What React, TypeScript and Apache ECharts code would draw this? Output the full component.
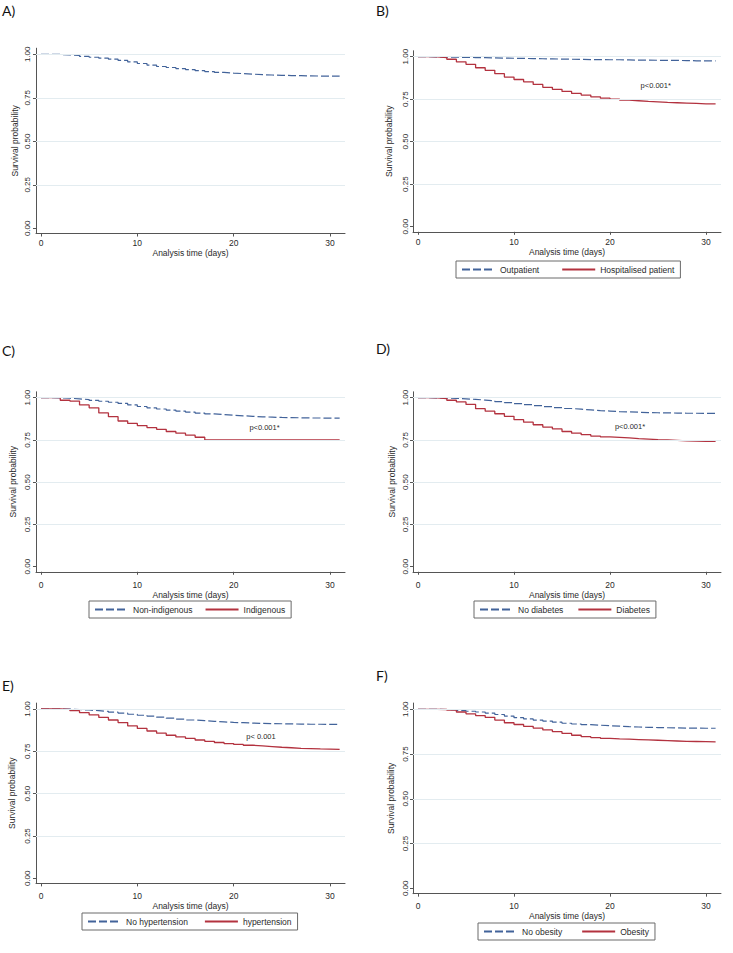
import React, { useEffect, useRef } from "react";
import * as echarts from "echarts";

// ---------- data ----------
const DAYS = [0, 1, 2, 3, 4, 5, 6, 7, 8, 9, 10, 11, 12, 13, 14, 15, 16, 17, 18, 19, 20, 21, 22, 23, 24, 25, 26, 27, 28, 29, 30, 31];
const X_TICKS = [0, 10, 20, 30];
const Y_TICKS = [0, 0.25, 0.5, 0.75, 1];
const Y_GRIDLINES = [0.25, 0.5, 0.75, 1];

const A_ALL = [1.0, 0.999, 0.997, 0.993, 0.988, 0.983, 0.978, 0.972, 0.965, 0.956, 0.947, 0.938, 0.93, 0.924, 0.918, 0.912, 0.906, 0.901, 0.896, 0.892, 0.889, 0.886, 0.883, 0.881, 0.879, 0.878, 0.877, 0.876, 0.875, 0.875, 0.874, 0.873];
const B_OUT = [1, 0.999, 0.998, 0.997, 0.996, 0.995, 0.994, 0.993, 0.992, 0.991, 0.99, 0.989, 0.988, 0.987, 0.986, 0.985, 0.984, 0.983, 0.983, 0.982, 0.982, 0.981, 0.98, 0.98, 0.979, 0.978, 0.978, 0.977, 0.976, 0.976, 0.975, 0.974];
const B_HOSP = [1, 0.999, 0.995, 0.985, 0.97, 0.955, 0.935, 0.92, 0.9, 0.88, 0.866, 0.852, 0.837, 0.82, 0.808, 0.796, 0.784, 0.774, 0.764, 0.756, 0.75, 0.745, 0.741, 0.737, 0.734, 0.731, 0.729, 0.727, 0.725, 0.723, 0.722, 0.72];
const C_NON = [1, 0.999, 0.997, 0.993, 0.989, 0.984, 0.979, 0.973, 0.966, 0.957, 0.948, 0.94, 0.933, 0.927, 0.921, 0.915, 0.909, 0.904, 0.9, 0.896, 0.893, 0.89, 0.887, 0.885, 0.883, 0.882, 0.881, 0.88, 0.88, 0.879, 0.879, 0.878];
const C_IND = [1, 1, 0.985, 0.98, 0.957, 0.94, 0.91, 0.888, 0.862, 0.848, 0.835, 0.823, 0.813, 0.8, 0.79, 0.778, 0.766, 0.75, 0.75, 0.75, 0.75, 0.75, 0.75, 0.75, 0.75, 0.75, 0.75, 0.75, 0.75, 0.75, 0.75, 0.75];
const D_NO = [1, 0.999, 0.998, 0.996, 0.993, 0.99, 0.986, 0.982, 0.977, 0.971, 0.965, 0.959, 0.953, 0.947, 0.941, 0.936, 0.932, 0.928, 0.924, 0.921, 0.918, 0.916, 0.914, 0.912, 0.911, 0.91, 0.909, 0.908, 0.908, 0.907, 0.907, 0.906];
const D_DIA = [1, 0.999, 0.995, 0.985, 0.975, 0.96, 0.935, 0.92, 0.905, 0.89, 0.87, 0.855, 0.84, 0.826, 0.815, 0.8, 0.79, 0.781, 0.773, 0.768, 0.765, 0.762, 0.758, 0.755, 0.752, 0.75, 0.748, 0.744, 0.743, 0.742, 0.741, 0.739];
const E_NO = [1, 1, 0.999, 0.997, 0.994, 0.99, 0.986, 0.981, 0.976, 0.969, 0.963, 0.958, 0.952, 0.946, 0.94, 0.935, 0.931, 0.927, 0.924, 0.921, 0.919, 0.917, 0.915, 0.914, 0.913, 0.912, 0.911, 0.91, 0.91, 0.909, 0.909, 0.908];
const E_HYP = [1, 1, 0.998, 0.99, 0.978, 0.965, 0.95, 0.935, 0.92, 0.9, 0.885, 0.87, 0.857, 0.845, 0.835, 0.826, 0.817, 0.809, 0.802, 0.796, 0.791, 0.786, 0.782, 0.778, 0.774, 0.771, 0.768, 0.766, 0.764, 0.763, 0.762, 0.76];
const F_NO = [1, 1, 0.999, 0.997, 0.993, 0.989, 0.985, 0.979, 0.971, 0.962, 0.953, 0.946, 0.94, 0.934, 0.928, 0.922, 0.918, 0.914, 0.911, 0.908, 0.906, 0.903, 0.901, 0.899, 0.898, 0.897, 0.896, 0.895, 0.895, 0.894, 0.894, 0.893];
const F_OB = [1, 1, 0.999, 0.995, 0.985, 0.975, 0.965, 0.955, 0.94, 0.925, 0.915, 0.905, 0.895, 0.885, 0.875, 0.865, 0.855, 0.847, 0.842, 0.838, 0.835, 0.833, 0.831, 0.829, 0.827, 0.825, 0.823, 0.821, 0.82, 0.819, 0.818, 0.817];

// ---------- styling ----------
const BLUE = "#42639a";
const RED = "#b3323f";
const AXIS = "#555555";
const TEXT = "#2a2a2a";
const GRIDLINE = "#e3ecf0";
const FONT = "'Liberation Sans', Arial, sans-serif";

const Y_MIN = -0.03;
const Y_MAX = 1.035;
const X_MIN = -0.52;
const X_MAX = 31.56;

type S = { name: string; data: number[]; dashed: boolean };
type Panel = {
  label: string;
  labelPos: [number, number];
  cal: { y1: number; y0: number; x0: number; x30: number };
  series: S[];
  legend?: { left: number; top: number; gap: number };
  p?: { text: string; x: number; y: number };
  xLabelMargin: number;
  xNameGap: number;
  yNameGap: number;
};

const PANELS: Panel[] = [
  {
    label: "A)", labelPos: [2, 3],
    cal: { y1: 54.3, y0: 228.3, x0: 41, x30: 330 },
    series: [{ name: "All patients", data: A_ALL, dashed: true }],
    xLabelMargin: 5, xNameGap: 12, yNameGap: 16,
  },
  {
    label: "B)", labelPos: [376, 3],
    cal: { y1: 56.7, y0: 226.7, x0: 418, x30: 706 },
    series: [
      { name: "Outpatient", data: B_OUT, dashed: true },
      { name: "Hospitalised patient", data: B_HOSP, dashed: false },
    ],
    legend: { left: 456, top: 261, gap: 22 },
    p: { text: "p<0.001*", x: 655.7, y: 85 },
    xLabelMargin: 6, xNameGap: 14, yNameGap: 20,
  },
  {
    label: "C)", labelPos: [2, 343],
    cal: { y1: 397.7, y0: 566.7, x0: 41, x30: 330 },
    series: [
      { name: "Non-indigenous", data: C_NON, dashed: true },
      { name: "Indigenous", data: C_IND, dashed: false },
    ],
    legend: { left: 89, top: 601, gap: 12 },
    p: { text: "p<0.001*", x: 264.5, y: 427.7 },
    xLabelMargin: 9, xNameGap: 16, yNameGap: 18,
  },
  {
    label: "D)", labelPos: [376, 341],
    cal: { y1: 397.7, y0: 566.7, x0: 418, x30: 706 },
    series: [
      { name: "No diabetes", data: D_NO, dashed: true },
      { name: "Diabetes", data: D_DIA, dashed: false },
    ],
    legend: { left: 474, top: 601, gap: 14 },
    p: { text: "p<0.001*", x: 630, y: 426.7 },
    xLabelMargin: 9, xNameGap: 16, yNameGap: 17,
  },
  {
    label: "E)", labelPos: [2, 678],
    cal: { y1: 709, y0: 878.3, x0: 41, x30: 330 },
    series: [
      { name: "No hypertension", data: E_NO, dashed: true },
      { name: "hypertension", data: E_HYP, dashed: false },
    ],
    legend: { left: 82, top: 913, gap: 16 },
    p: { text: "p< 0.001", x: 261, y: 736.7 },
    xLabelMargin: 8, xNameGap: 15, yNameGap: 19,
  },
  {
    label: "F)", labelPos: [376, 668],
    cal: { y1: 709.3, y0: 888.3, x0: 418, x30: 706 },
    series: [
      { name: "No obesity", data: F_NO, dashed: true },
      { name: "Obesity", data: F_OB, dashed: false },
    ],
    legend: { left: 478, top: 923, gap: 19 },
    xLabelMargin: 8, xNameGap: 15, yNameGap: 18,
  },
];

function gridFrom(c: Panel["cal"]) {
  const py = c.y0 - c.y1;
  const px = (c.x30 - c.x0) / 30;
  return {
    left: c.x0 + X_MIN * px,
    top: c.y1 - (Y_MAX - 1) * py,
    width: (X_MAX - X_MIN) * px,
    height: (Y_MAX - Y_MIN) * py,
    containLabel: false,
  };
}

function buildOption() {
  const grid: any[] = [];
  const xAxis: any[] = [];
  const yAxis: any[] = [];
  const series: any[] = [];
  const legend: any[] = [];
  const graphic: any[] = [];

  PANELS.forEach((p, i) => {
    grid.push(gridFrom(p.cal));
    xAxis.push({
      type: "value",
      gridIndex: i,
      min: X_MIN,
      max: X_MAX,
      axisLine: { show: true, onZero: false, lineStyle: { color: AXIS, width: 1 } },
      axisTick: { show: true, inside: false, length: 3, customValues: X_TICKS, lineStyle: { color: AXIS } },
      axisLabel: {
        customValues: X_TICKS,
        margin: p.xLabelMargin,
        fontSize: 8.5,
        color: TEXT,
        fontFamily: FONT,
        formatter: (v: number) => String(v),
      },
      splitLine: { show: false },
      name: "Analysis time (days)",
      nameLocation: "middle",
      nameGap: p.xNameGap,
      nameTextStyle: { fontSize: 8.5, color: TEXT, fontFamily: FONT },
    });
    yAxis.push({
      type: "value",
      gridIndex: i,
      min: Y_MIN,
      max: Y_MAX,
      axisLine: { show: true, onZero: false, lineStyle: { color: AXIS, width: 1 } },
      axisTick: { show: true, inside: false, length: 3, customValues: Y_TICKS, lineStyle: { color: AXIS } },
      axisLabel: {
        customValues: Y_TICKS,
        rotate: 90,
        margin: 4,
        fontSize: 8,
        color: TEXT,
        fontFamily: FONT,
        formatter: (v: number) => v.toFixed(2),
      },
      splitLine: { show: false },
      name: "Survival probability",
      nameLocation: "middle",
      nameGap: p.yNameGap,
      nameTextStyle: { fontSize: 8.5, color: TEXT, fontFamily: FONT },
    });

    // gridlines (drawn under the curves)
    series.push({
      type: "line",
      name: "__grid" + i,
      xAxisIndex: i,
      yAxisIndex: i,
      data: [[0, 1]],
      symbol: "none",
      lineStyle: { opacity: 0 },
      silent: true,
      z: 1,
      markLine: {
        silent: true,
        symbol: ["none", "none"],
        label: { show: false },
        lineStyle: { color: GRIDLINE, width: 1, type: "solid" },
        data: Y_GRIDLINES.map((v) => ({ yAxis: v })),
      },
    });

    p.series.forEach((s) => {
      const color = s.dashed ? BLUE : RED;
      series.push({
        type: "line",
        name: s.name,
        xAxisIndex: i,
        yAxisIndex: i,
        step: "end",
        symbol: "none",
        z: 3,
        data: DAYS.map((d, k) => [d, s.data[k]]),
        itemStyle: { color },
        lineStyle: s.dashed
          ? { color, width: 1.2, type: [8, 3] }
          : { color, width: 1.3, type: "solid" },
        emphasis: { disabled: true },
      });
    });

    if (p.legend) {
      legend.push({
        data: p.series.map((s) => s.name),
        left: p.legend.left,
        top: p.legend.top,
        orient: "horizontal",
        itemWidth: 33,
        itemHeight: 8,
        itemGap: p.legend.gap,
        padding: [4, 6, 4, 5],
        borderColor: "#6a6a6a",
        borderWidth: 1,
        borderRadius: 0,
        backgroundColor: "#ffffff",
        selectedMode: false,
        itemStyle: { color: "rgba(0,0,0,0)", borderWidth: 0, opacity: 0 },
        textStyle: { fontSize: 8.5, color: TEXT, fontFamily: FONT },
      });
    }

    graphic.push({
      type: "text",
      x: p.labelPos[0],
      y: p.labelPos[1],
      style: { text: p.label, fontSize: 14, fontFamily: "Lato, 'Open Sans', sans-serif", fill: "#111" },
    });
    if (p.p) {
      graphic.push({
        type: "text",
        x: p.p.x,
        y: p.p.y,
        style: {
          text: p.p.text,
          align: "center",
          verticalAlign: "middle",
          fontSize: 7.5,
          fontFamily: FONT,
          fill: TEXT,
        },
      });
    }
  });

  return {
    animation: false,
    backgroundColor: "#ffffff",
    grid,
    xAxis,
    yAxis,
    series,
    legend,
    graphic,
  };
}

export default function App() {
  const ref = useRef<HTMLDivElement>(null);
  useEffect(() => {
    if (!ref.current) return;
    const chart = echarts.init(ref.current, undefined, { renderer: "svg" });
    chart.setOption(buildOption() as any);
    return () => chart.dispose();
  }, []);
  return (
    <div
      ref={ref}
      style={{ position: "absolute", left: 0, top: 0, width: 733, height: 953 }}
    />
  );
}
